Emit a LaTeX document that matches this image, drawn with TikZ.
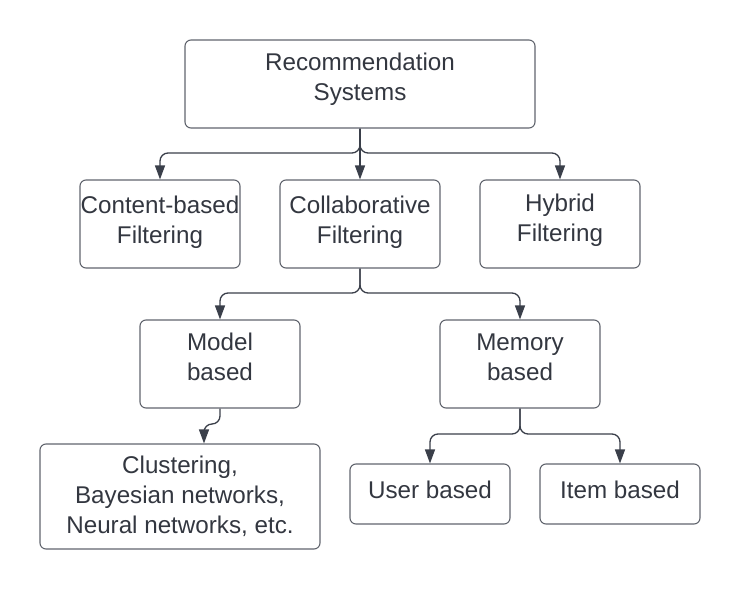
\documentclass[tikz,border=0pt]{standalone}
\usepackage{fontspec}
\setmainfont{Liberation Sans}
\usetikzlibrary{arrows.meta}
\definecolor{linec}{HTML}{3A3F4A}
\definecolor{textc}{HTML}{333740}
\begin{document}
\begin{tikzpicture}[x=1pt,y=-1pt,
  box/.style={draw=linec!80, line width=1.1pt, rounded corners=6pt, fill=white,
    align=center, text=textc, font=\fontsize{24.2}{30}\selectfont, inner sep=0pt},
  conn/.style={draw=linec, line width=1.3pt, rounded corners=8pt,
    -{Triangle[length=14pt,width=10pt]}}]
\useasboundingbox (0,0) rectangle (740,589);
\node[box, minimum width=350, minimum height=88, text depth=14pt] (root) at (360,84) {Recommendation\\Systems};
\node[box, minimum width=160, minimum height=88, text depth=8pt] (content) at (160,224) {Content-based\\Filtering};
\node[box, minimum width=160, minimum height=88, text depth=9pt] (collab) at (360,224) {Collaborative\\Filtering};
\node[box, minimum width=160, minimum height=88, text depth=13pt] (hybrid) at (560,224) {Hybrid\\Filtering};
\node[box, minimum width=160, minimum height=88, text depth=14pt] (model) at (220,364) {Model\\based};
\node[box, minimum width=160, minimum height=88, text depth=14pt] (memory) at (520,364) {Memory\\based};
\node[box, minimum width=280, minimum height=105] (clust) at (180,496.5) {Clustering,\\Bayesian networks,\\Neural networks, etc.};
\node[box, minimum width=160, minimum height=60, text depth=8pt] (user) at (430,494) {User based};
\node[box, minimum width=160, minimum height=60, text depth=8pt] (item) at (620,494) {Item based};
\coordinate (r1) at (360,153);
\coordinate (c1) at (360,293);
\coordinate (m1) at (220,424);
\coordinate (e1) at (520,434);
\draw[conn] (root.south) -- (r1) -| (content.north);
\draw[conn] (root.south) -- (collab.north);
\draw[conn] (root.south) -- (r1) -| (hybrid.north);
\draw[conn] (collab.south) -- (c1) -| (model.north);
\draw[conn] (collab.south) -- (c1) -| (memory.north);
\draw[conn] (model.south) -- (m1) -| (clust.north -| 204,0);
\draw[conn] (memory.south) -- (e1) -| (user.north);
\draw[conn] (memory.south) -- (e1) -| (item.north);
\end{tikzpicture}
\end{document}
